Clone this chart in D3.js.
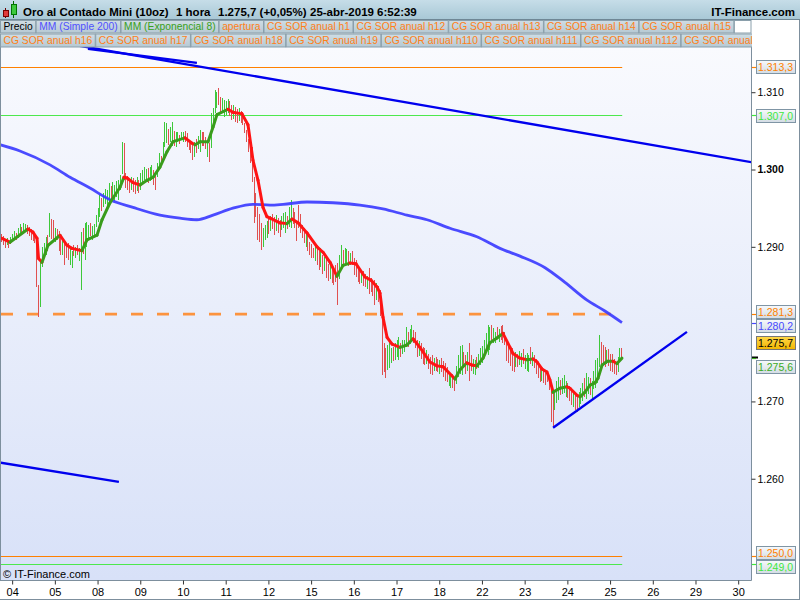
<!DOCTYPE html>
<html><head><meta charset="utf-8">
<script src="https://cdn.jsdelivr.net/npm/d3@7"></script>
<style>body{margin:0;background:#fff;} svg{display:block;font-family:"Liberation Sans",Arial,sans-serif;}</style>
</head><body><svg id="c" width="800" height="600"></svg>
<script>
// ---------------- DATA ----------------
const title = "Oro al Contado Mini (10oz)";
const period = "1 hora";
const lastPrice = 1275.7;
const changePct = 0.05;
const stamp = "25-abr-2019 6:52:39";
const brand = "IT-Finance.com";

const legendRow1 = ["Precio","MM (Simple 200)","MM (Exponencial 8)","apertura","CG SOR anual h1","CG SOR anual h12","CG SOR anual h13","CG SOR anual h14","CG SOR anual h15"];
const legendRow2 = ["CG SOR anual h16","CG SOR anual h17","CG SOR anual h18","CG SOR anual h19","CG SOR anual h110","CG SOR anual h111","CG SOR anual h112","CG SOR anual h113"];

const dayLabels = ["04","05","08","09","10","11","12","15","16","17","18","22","23","24","25","26","29","30"];
const firstDayBar = 6, barsPerDay = 23;
const priceTicks = [1260,1270,1290,1300,1310];

// hourly bars: highs / lows (one line per trading day)
const highs = [
1291.6,1291.4,1291.0,1291.2,1290.9,1291.3,
1291.6,1292.0,1291.8,1292.4,1292.9,1292.6,1293.1,1293.0,1292.8,1292.6,1292.3,1291.9,1291.8,1291.3,1285.1,1288.3,1290.0,1290.5,1291.3,1291.5,1294.4,1293.6,1293.5,
1292.4,1292.3,1292.0,1291.4,1291.0,1290.9,1290.4,1290.5,1289.9,1289.4,1290.3,1290.0,1290.2,1289.9,1291.9,1292.4,1293.1,1293.2,1292.8,1293.1,1292.7,1293.0,1294.1,
1295.0,1296.7,1296.3,1297.0,1297.5,1297.4,1298.3,1297.9,1298.4,1298.0,1298.5,1298.6,1299.3,1303.6,1303.4,1299.6,1299.2,1298.8,1299.0,1298.9,1298.6,1299.0,1298.7,
1299.5,1300.0,1300.3,1300.1,1300.2,1300.3,1300.6,1300.0,1299.3,1300.9,1302.1,1301.8,1303.5,1306.1,1306.0,1305.2,1305.5,1306.1,1305.0,1304.8,1304.8,1304.5,1304.8,
1304.9,1305.0,1304.7,1303.8,1303.6,1303.2,1303.6,1304.0,1304.4,1305.1,1304.8,1304.9,1304.2,1303.8,1303.4,1307.3,1308.0,1310.3,1310.0,1310.6,1309.4,1309.2,1309.0,
1308.8,1309.1,1308.9,1308.4,1308.3,1308.1,1307.8,1308.0,1307.6,1307.4,1306.0,1305.1,1304.0,1303.0,1302.9,1299.0,1297.0,1295.1,1294.2,1293.1,1292.4,1292.8,1293.4,
1293.6,1294.0,1294.2,1293.8,1294.1,1293.7,1293.5,1294.0,1294.4,1294.5,1294.0,1295.2,1296.0,1295.0,1294.5,1293.1,1295.4,1294.2,1292.8,1292.4,1292.0,1291.5,1290.6,
1290.4,1289.9,1290.2,1290.0,1289.5,1289.8,1289.0,1288.7,1288.6,1287.8,1288.0,1287.5,1287.2,1287.7,1287.9,1289.0,1290.2,1289.6,1289.9,1289.7,1289.4,1289.2,1289.5,
1288.6,1288.3,1287.4,1287.0,1286.7,1286.9,1286.5,1286.2,1287.3,1286.0,1285.5,1285.7,1285.3,1284.9,1284.4,1281.8,1277.5,1276.9,1277.3,1277.8,1276.9,1277.1,1277.6,
1277.9,1278.3,1277.5,1277.9,1278.0,1279.6,1279.0,1279.4,1279.9,1279.3,1279.0,1278.0,1277.8,1277.5,1277.0,1276.9,1276.6,1276.2,1275.7,1276.0,1275.6,1275.8,1275.5,
1275.4,1275.6,1275.2,1275.0,1274.4,1273.6,1273.4,1273.5,1273.0,1274.6,1276.0,1277.2,1277.3,1276.4,1276.0,1276.4,1277.5,1276.0,1275.5,1275.3,1275.8,1276.1,1276.9,
1277.2,1277.9,1278.8,1279.9,1279.6,1279.9,1279.5,1279.0,1279.6,1279.4,1279.8,1279.9,1279.0,1278.0,1277.5,1277.0,1276.9,1276.0,1276.4,1276.1,1276.5,1276.3,1276.8,
1276.0,1276.3,1276.0,1277.0,1276.4,1276.0,1275.5,1274.8,1274.5,1274.2,1274.0,1273.7,1274.0,1273.2,1271.7,1271.1,1271.5,1272.6,1273.2,1272.8,1273.0,1273.4,1272.7,
1272.4,1272.0,1271.5,1271.2,1271.0,1270.7,1271.2,1271.8,1272.4,1273.0,1273.7,1273.2,1273.0,1272.7,1274.0,1275.3,1275.6,1278.6,1277.7,1277.3,1277.0,1276.6,1276.8,
1276.2,1276.2,1275.5,1275.0,1275.8,1276.9,1276.9
];
const lows = [
1290.6,1290.3,1289.9,1290.2,1289.8,1290.4,
1290.7,1291.0,1290.9,1291.2,1291.6,1291.5,1291.9,1292.0,1291.7,1291.4,1290.9,1290.8,1290.5,1284.8,1280.9,1282.2,1287.4,1288.7,1289.0,1289.5,1291.3,1291.0,1290.8,
1290.6,1290.9,1289.5,1289.0,1288.9,1287.6,1288.6,1288.3,1287.6,1287.3,1288.8,1288.5,1288.9,1288.2,1284.4,1289.1,1288.3,1290.0,1291.0,1291.4,1290.9,1291.3,1292.6,
1293.2,1293.9,1294.6,1295.2,1295.5,1295.0,1295.7,1296.2,1296.0,1295.9,1296.5,1296.1,1297.4,1299.4,1298.6,1297.6,1297.3,1297.0,1297.4,1297.1,1296.8,1297.2,1297.0,
1297.4,1298.3,1298.6,1298.4,1298.2,1298.5,1298.6,1298.0,1297.3,1299.0,1300.3,1300.6,1301.2,1302.9,1303.4,1303.2,1303.5,1303.0,1303.1,1302.9,1303.6,1303.3,1303.8,
1303.5,1303.6,1302.9,1302.5,1302.2,1301.2,1301.6,1302.2,1302.6,1302.3,1303.0,1303.0,1302.6,1301.6,1301.0,1302.8,1305.5,1307.3,1308.0,1308.3,1307.5,1307.3,1306.8,
1307.0,1307.3,1306.9,1306.4,1306.5,1306.2,1306.0,1306.3,1306.0,1305.8,1304.7,1303.6,1302.3,1300.8,1298.4,1293.1,1293.9,1290.9,1290.6,1289.6,1290.0,1290.9,1291.1,
1291.6,1292.0,1292.3,1291.5,1292.0,1291.8,1291.3,1292.2,1292.4,1291.8,1292.3,1292.5,1292.4,1293.0,1292.4,1290.7,1292.4,1291.8,1291.1,1290.5,1290.0,1289.4,1288.9,
1288.5,1288.6,1288.2,1287.6,1287.0,1287.4,1286.5,1286.9,1286.0,1285.6,1285.9,1285.3,1285.1,1285.4,1282.5,1285.9,1287.3,1287.5,1287.6,1287.8,1287.5,1287.7,1287.6,
1286.4,1286.1,1285.5,1285.2,1285.3,1284.9,1284.8,1284.5,1283.9,1284.2,1283.7,1282.5,1283.1,1282.8,1281.0,1273.4,1273.8,1273.0,1274.1,1274.3,1275.0,1275.2,1275.4,
1275.8,1275.3,1275.7,1276.2,1276.4,1277.0,1277.1,1277.4,1277.7,1277.5,1276.9,1275.8,1275.9,1275.5,1274.9,1274.7,1274.8,1274.2,1273.6,1273.4,1273.9,1274.0,1273.8,
1273.5,1273.8,1273.1,1272.7,1272.5,1272.0,1271.8,1271.8,1271.3,1272.3,1273.2,1273.5,1273.4,1274.3,1273.6,1274.0,1272.7,1273.9,1273.6,1273.4,1274.2,1274.3,1274.7,
1275.0,1275.6,1276.3,1276.0,1276.7,1277.9,1277.6,1277.5,1278.2,1277.7,1277.9,1277.6,1277.3,1275.2,1275.0,1274.6,1273.9,1273.8,1274.5,1274.4,1274.7,1274.4,1274.8,
1274.2,1274.0,1273.8,1274.9,1274.6,1274.3,1273.6,1273.0,1272.5,1272.6,1272.4,1272.1,1272.5,1271.5,1267.3,1266.7,1268.9,1269.8,1270.2,1270.8,1271.0,1271.1,1270.6,
1270.5,1270.0,1269.6,1269.3,1268.9,1268.6,1269.3,1269.7,1270.1,1270.6,1270.3,1270.9,1270.8,1270.2,1271.6,1271.7,1272.4,1274.4,1274.7,1275.0,1274.4,1274.8,1274.6,
1273.9,1273.8,1273.6,1273.4,1273.8,1275.3,1275.3
];
// bar direction per day (u = up/green, d = down/red)
const dirsByDay = [
"ddd udu",
"uudu uduu dddd dddu uuud udd",
"uddd uddd uudu duud uuud uuu",
"uudu uuud uuuu uudd ddud dud",
"uuuu duud duud uuud uudu udu",
"uddd ddud uudd dudu uuud duu",
"uudd uddu dddd dddd dddd uuu",
"dudd uddu uudu uddd dddd udd",
"ddud dudu ddud dddu uduu dud",
"dddd uddu dddd uddd dduu udu",
"uudu uudu uddd uddd uddd udd",
"uddd duud duuu uddu dduu duu",
"uuuu uduu dudd dddd ddud uud",
"uuud uddd dudd dddd uuud uuu",
"dddu dduu uduu duuu uudd dud",
"dddd uud"
];
// EMA(8) line: [bar index, value]
const emaPoints = [[0.5,1291.1],[4.8,1290.6],[14.5,1292.3],[17.2,1291.9],[19.4,1291.1],[20.2,1288.5],[22.1,1288.0],[25.3,1290.2],[31.8,1291.5],[35.5,1290.2],[38.2,1289.8],[43.6,1289.5],[46.3,1290.9],[51.7,1291.5],[54.4,1293.5],[58.7,1295.7],[64.1,1297.7],[66.2,1299.0],[67.9,1298.9],[71.1,1298.3],[74.9,1298.0],[78.6,1298.6],[81.9,1299.0],[85.6,1300.3],[89.4,1302.3],[92.6,1303.6],[99.1,1304.1],[102.9,1303.4],[104.5,1303.2],[107.2,1303.6],[111.5,1303.6],[114.2,1305.5],[116.3,1307.1],[122.2,1307.8],[124.9,1307.4],[129.8,1307.2],[133.0,1305.8],[135.7,1301.2],[138.4,1298.6],[141.1,1295.1],[143.2,1293.9],[144.9,1293.7],[150.2,1293.1],[154.0,1293.0],[156.7,1293.6],[160.0,1293.1],[164.8,1291.8],[170.2,1290.0],[173.4,1289.3],[177.2,1288.0],[180.9,1286.2],[184.2,1287.6],[187.9,1287.9],[191.2,1287.8],[196.0,1286.1],[199.2,1285.7],[202.5,1284.8],[204.1,1284.0],[205.7,1280.9],[207.9,1278.3],[210.6,1277.4],[214.9,1277.0],[218.6,1277.3],[221.9,1278.1],[225.6,1277.0],[231.0,1275.1],[234.8,1274.6],[238.0,1274.5],[244.5,1272.9],[247.2,1274.1],[250.9,1275.0],[253.6,1274.7],[256.3,1274.6],[259.6,1275.6],[263.3,1277.6],[267.1,1278.2],[270.3,1278.8],[274.1,1277.0],[275.7,1276.2],[279.5,1275.6],[283.3,1275.4],[286.5,1275.5],[288.7,1275.1],[291.3,1274.2],[294.0,1273.8],[295.6,1272.8],[297.3,1271.2],[301.0,1271.7],[304.8,1271.9],[306.4,1271.7],[310.2,1270.8],[311.8,1270.6],[314.5,1271.2],[317.2,1272.1],[319.9,1272.4],[321.5,1273.0],[323.7,1274.7],[326.4,1275.2],[329.6,1275.2],[331.7,1274.9],[334.4,1275.6]];
// SMA(200) line
const smaPoints = [[-0.5,1303.2],[10.2,1302.4],[26.4,1300.6],[37.2,1299.0],[47.9,1297.6],[58.7,1296.1],[71.1,1295.1],[85.6,1294.1],[96.4,1293.7],[105.5,1293.5],[114.2,1294.1],[124.9,1295.0],[135.7,1295.5],[144.9,1295.4],[151.9,1295.5],[164.8,1295.8],[178.8,1295.7],[193.3,1295.4],[205.7,1294.9],[218.6,1294.1],[229.4,1293.5],[241.8,1292.4],[256.3,1291.3],[268.7,1289.8],[279.5,1288.8],[293,1287.3],[303.7,1285.4],[315.6,1283.1],[325.2,1281.7],[334.4,1280.2]];
const smaLast = 1280.2, emaLast = 1275.6;
// horizontal levels
const levelValues = [1313.3, 1307.0, 1281.3, 1250.0, 1249.0];
const levelKinds  = ["orange","green","dash","orange","green"];
// drawn trend lines: [[bar, price],[bar, price]]
const trendLines = [
  [[40,1316.1],[410,1300.7]],
  [[46.8,1315.6],[105.5,1313.8]],
  [[-0.6,1262.1],[63.5,1259.6]],
  [[297.3,1266.6],[369.4,1279.0]]
];
</script>
<script>
const dirString = dirsByDay.join("").replace(/\s+/g,"");
const W=800,H=600, PR=751, PT=47, PB=580;
const svg=d3.select("#c");
const defs=svg.append("defs");
function grad(id, c1, c2){const g=defs.append("linearGradient").attr("id",id).attr("x1",0).attr("y1",0).attr("x2",0).attr("y2",1);
 g.append("stop").attr("offset","0%").attr("stop-color",c1); g.append("stop").attr("offset","100%").attr("stop-color",c2);}
grad("gPlot","#f9fafe","#d8e1f8");
grad("gHead","#c6dde8","#a7c7d5");
grad("gLeg","#cfdde4","#b6c9d3");
grad("gLab","#f7f9fb","#d3dce4");
grad("gYel","#ffd84a","#f2b500");
defs.append("clipPath").attr("id","clip").append("rect").attr("x",1).attr("y",PT).attr("width",PR-1).attr("height",PB-PT);
defs.append("clipPath").attr("id","legclip").append("rect").attr("x",0).attr("y",20).attr("width",752).attr("height",28);

const loc=d3.formatLocale({decimal:",",thousands:".",grouping:[3],currency:["","€"]});
const f0=loc.format(",.0f"), f1=loc.format(",.1f"), fp=loc.format("+.2f");

const ORANGE="#ff8000", LGREEN="#4de84d", BLUE="#3c3cff", EGREEN="#3a9c1c", ERED="#ff1414";
const nBars=highs.length;
const x=d3.scaleLinear().domain([0,404]).range([1,751.2]);
const y=d3.scaleLinear().domain([1246.9,1315.72]).range([PB,48]);

// backgrounds
svg.append("rect").attr("width",W).attr("height",H).attr("fill","#fff");
svg.append("rect").attr("x",0).attr("y",PT).attr("width",PR).attr("height",PB-PT).attr("fill","url(#gPlot)");

const plot=svg.append("g").attr("clip-path","url(#clip)");
const xEnd=x(nBars-1)+1;

// level lines
levelValues.forEach((v,i)=>{
  const k=levelKinds[i];
  if(k==="dash"){
    plot.append("line").attr("x1",1).attr("x2",xEnd).attr("y1",y(v)).attr("y2",y(v))
      .attr("stroke","#ff8a2a").attr("stroke-width",2.6).attr("stroke-dasharray","12,14").attr("opacity",0.9);
  } else {
    const yy=Math.round(y(v))+0.5;
    plot.append("line").attr("x1",1).attr("x2",xEnd).attr("y1",yy).attr("y2",yy)
      .attr("stroke",k==="orange"?ORANGE:LGREEN).attr("stroke-width",1);
  }
});

// bars
plot.append("g").selectAll("line").data(d3.range(nBars)).join("line")
  .attr("x1",i=>Math.round(x(i))+0.5).attr("x2",i=>Math.round(x(i))+0.5)
  .attr("y1",i=>y(highs[i])).attr("y2",i=>Math.max(y(lows[i]),y(highs[i])+1))
  .attr("stroke",i=>dirString[i]==="u"?"#3ec83a":"#e05050").attr("stroke-width",1)
  .attr("shape-rendering","crispEdges");

// SMA
plot.append("path").datum(smaPoints).attr("fill","none").attr("stroke",BLUE).attr("stroke-width",2.8)
  .attr("opacity",0.92).attr("stroke-linejoin","round")
  .attr("d",d3.line().x(d=>x(d[0])).y(d=>y(d[1])).curve(d3.curveMonotoneX));

// EMA colored segments
const segLine=d3.line().x(d=>x(d[0])).y(d=>y(d[1]));
for(let i=1;i<emaPoints.length;i++){
  const a=emaPoints[i-1], b=emaPoints[i];
  plot.append("path").attr("d",segLine([a,b])).attr("fill","none")
    .attr("stroke",b[1]<a[1]?ERED:EGREEN).attr("stroke-width",3).attr("stroke-linecap","round");
}

// trend lines
trendLines.forEach(t=>{
  plot.append("line").attr("x1",x(t[0][0])).attr("y1",y(t[0][1])).attr("x2",x(t[1][0])).attr("y2",y(t[1][1]))
    .attr("stroke","#0000ee").attr("stroke-width",2.4);
});

// copyright
svg.append("text").attr("x",3).attr("y",578).attr("font-size",11).attr("fill","#000").text("© "+brand);

// borders
const BC="#7d8f9d";
svg.append("line").attr("x1",0.5).attr("x2",0.5).attr("y1",PT).attr("y2",PB).attr("stroke",BC);
svg.append("line").attr("x1",PR+0.5).attr("x2",PR+0.5).attr("y1",PT).attr("y2",PB+0.5).attr("stroke",BC);
svg.append("line").attr("x1",0).attr("x2",PR+0.5).attr("y1",PB+0.5).attr("y2",PB+0.5).attr("stroke",BC);
svg.append("line").attr("x1",0).attr("x2",W).attr("y1",599.5).attr("y2",599.5).attr("stroke",BC);
svg.append("line").attr("x1",799.5).attr("x2",799.5).attr("y1",20).attr("y2",H).attr("stroke",BC);

// bottom axis
const xAxis=d3.axisBottom(x).tickValues(dayLabels.map((d,i)=>firstDayBar+i*barsPerDay))
  .tickFormat((d,i)=>dayLabels[i]).tickSize(4).tickPadding(4);
const gx=svg.append("g").attr("transform",`translate(0,${PB+0.5})`).call(xAxis);
gx.select(".domain").remove();
gx.selectAll("line").attr("stroke","#333");
gx.selectAll("text").attr("font-size",11).attr("font-family","Liberation Sans, Arial").attr("fill","#000");

// right axis ticks
const yAxis=d3.axisRight(y).tickValues(priceTicks).tickFormat(f0).tickSize(4).tickPadding(2);
const gy=svg.append("g").attr("transform",`translate(${PR+0.5},0)`).call(yAxis);
gy.select(".domain").remove();
gy.selectAll("line").attr("stroke","#333");
gy.selectAll("text").attr("font-size",10.5).attr("font-family","Liberation Sans, Arial").attr("fill","#000")
  .attr("font-weight",d=>d%100===0?"bold":"normal");

// value labels on right axis
const labels=[
 {v:levelValues[0],c:ORANGE,t:"box"},
 {v:levelValues[1],c:"#3ee83e",t:"box"},
 {v:levelValues[2],c:ORANGE,t:"box"},
 {v:smaLast,c:"#4848ff",t:"box"},
 {v:lastPrice,c:"#000",t:"price"},
 {v:emaLast,c:"#3aaa1c",t:"ema"},
 {v:levelValues[3],c:ORANGE,t:"box"},
 {v:levelValues[4],c:"#3ee83e",t:"box"}
];
labels.forEach(l=>{l.y0=y(l.v); l.cy=l.y0; if(l.t==="price") l.cy-=15; if(l.t==="ema") l.cy+=8;});
labels.sort((a,b)=>a.cy-b.cy);
for(let it=0;it<60;it++){
  for(let i=0;i<labels.length-1;i++){
    const gap=labels[i+1].cy-labels[i].cy;
    if(gap<14){const d=(14-gap)/2; labels[i].cy-=d; labels[i+1].cy+=d;}
  }
}
labels.forEach(l=>{
  const ty=Math.round(l.y0)+0.5;
  if(l.t==="price"){
    svg.append("line").attr("x1",PR+1).attr("x2",PR+7).attr("y1",ty).attr("y2",ty).attr("stroke","#000").attr("stroke-width",2);
  } else {
    svg.append("line").attr("x1",PR+1).attr("x2",PR+5).attr("y1",ty).attr("y2",ty).attr("stroke",l.c).attr("stroke-width",1.2);
  }
  const by=Math.round(l.cy-6.5)+0.5;
  svg.append("rect").attr("x",756.5).attr("y",by).attr("width",39).attr("height",13)
    .attr("fill",l.t==="price"?"url(#gYel)":"url(#gLab)").attr("stroke",l.t==="price"?"#777":"#7f95a5");
  svg.append("text").attr("x",758).attr("y",by+10.5).attr("font-size",10.5).attr("fill",l.c).text(f1(l.v));
});

// header
svg.append("rect").attr("x",0).attr("y",0).attr("width",W).attr("height",20).attr("fill","url(#gHead)");
svg.append("line").attr("x1",0).attr("x2",W).attr("y1",19.5).attr("y2",19.5).attr("stroke","#6f8795");
svg.append("line").attr("x1",5.5).attr("x2",5.5).attr("y1",8).attr("y2",18).attr("stroke","#600");
svg.append("rect").attr("x",3.5).attr("y",10.5).attr("width",5).attr("height",6).attr("fill","#e03a3a").attr("stroke","#700");
svg.append("line").attr("x1",13.5).attr("x2",13.5).attr("y1",1).attr("y2",18).attr("stroke","#060");
svg.append("rect").attr("x",11.5).attr("y",4.5).attr("width",5).attr("height",10).attr("fill","#3cc83c").attr("stroke","#070");
const hdr=svg.append("g").attr("font-size",11.5).attr("font-weight","bold").attr("fill","#000");
hdr.append("text").attr("x",23).attr("y",15.5).text(title);
hdr.append("text").attr("x",176).attr("y",15.5).text(period);
hdr.append("text").attr("x",218).attr("y",15.5).text(`${f1(lastPrice)} (${fp(changePct)}%)`);
hdr.append("text").attr("x",310).attr("y",15.5).text(stamp);
hdr.append("text").attr("x",795).attr("y",15.5).attr("text-anchor","end").text(brand);

// legend
const legColor=t=>t==="Precio"?"#000":t.startsWith("MM (S")?"#5050ff":t.startsWith("MM (E")?"#38a020":"#ff8018";
function legendRow(items,y0,h,parent){
  const g=parent.append("g");
  let cx=0;
  items.forEach(t=>{
    const txt=g.append("text").attr("font-size",10.3).attr("fill",legColor(t)).text(t);
    const w=txt.node().getComputedTextLength()+6;
    g.insert("rect","text").attr("x",cx+0.5).attr("y",y0+0.5).attr("width",w).attr("height",h)
      .attr("fill","url(#gLeg)").attr("stroke","#8a9fab");
    txt.attr("x",cx+3.5).attr("y",y0+h-2.5);
    cx+=w+0.5;
  });
  return cx;
}
const l1=legendRow(legendRow1,20,12.5,svg);
svg.append("rect").attr("x",l1+0.5).attr("y",20.5).attr("width",PR-l1-0.5).attr("height",12.5).attr("fill","#fff").attr("stroke","#8a9fab");
legendRow(legendRow2,33.5,13,svg.append("g").attr("clip-path","url(#legclip)"));
</script>
</body></html>
